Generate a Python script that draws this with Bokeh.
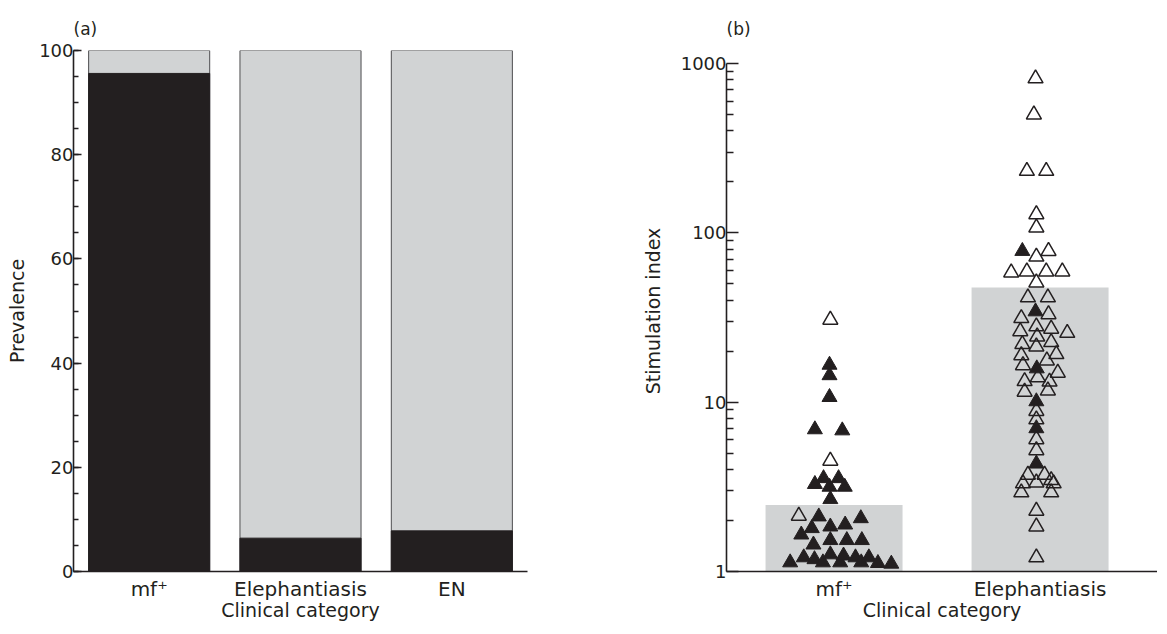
from bokeh.plotting import figure
from bokeh.layouts import row, column
from bokeh.models import Range1d, FixedTicker, NumeralTickFormatter, Label
from bokeh.embed import file_html
from bokeh.resources import INLINE

# ---------------- data ----------------
# Panel (a): prevalence (%) by clinical category
categories_a = ["mf⁺", "Elephantiasis", "EN"]
positive_a = [95.6, 6.4, 7.8]
total_a = [100, 100, 100]

# Panel (b): stimulation index, bars = group summary
categories_b = ["mf⁺", "Elephantiasis"]
bar_b = [2.47, 47.5]

# mf+ group: filled (black) and open triangles; dx = horizontal jitter in category units
mf_filled_si = [16.6, 14.4, 10.7, 6.9, 6.8, 3.55, 3.55, 3.28, 3.16, 3.16, 2.67,
                2.11, 2.06, 1.80, 1.84, 1.89, 1.65, 1.44, 1.53, 1.53, 1.53,
                1.13, 1.21, 1.18, 1.13, 1.26, 1.13, 1.24, 1.21, 1.13, 1.21, 1.12, 1.11]
mf_filled_dx = [-0.022, -0.022, -0.022, -0.093, 0.040, -0.051, 0.022, -0.093, -0.022, 0.052, -0.018,
                -0.074, 0.130, -0.108, -0.018, 0.054, -0.159, -0.100, -0.018, 0.062, 0.135,
                -0.213, -0.147, -0.095, -0.054, -0.018, 0.030, 0.046, 0.104, 0.132, 0.169, 0.213, 0.278]
mf_open_si = [30.6, 4.5, 2.13]
mf_open_dx = [-0.018, -0.018, -0.171]

# Elephantiasis group
el_filled_si = [78.0, 34.3, 15.8, 10.1, 7.0, 4.33]
el_filled_dx = [-0.086, -0.022, -0.016, -0.018, -0.018, -0.018]
el_open_si = [816, 499, 231.7, 231.7, 128.5, 107.4, 78.0, 72.3, 58.2, 59.0, 59.0, 59.0, 50.8,
              41.5, 41.5, 33.0, 31.3, 28.0, 27.1, 25.6, 26.2, 24.4, 22.0, 22.6, 21.3,
              18.9, 19.2, 17.6, 16.5, 14.9, 14.0, 13.3, 13.2, 11.5, 11.7,
              8.85, 7.9, 6.03, 5.19, 3.72, 3.72, 3.31, 3.35, 3.46, 3.31, 2.93, 2.93,
              2.28, 1.84, 1.21]
el_open_dx = [-0.022, -0.030, -0.064, 0.030, -0.018, -0.018, 0.041, -0.018, -0.140, -0.064, 0.030, 0.108, -0.018,
              -0.059, 0.038, 0.041, -0.091, -0.018, 0.054, 0.132, -0.096, -0.014, -0.086, 0.054, -0.018,
              -0.091, 0.079, 0.033, -0.083, 0.086, -0.011, -0.075, 0.046, -0.075, 0.038,
              -0.018, -0.018, -0.018, -0.018, -0.059, 0.022, -0.083, -0.018, 0.054, 0.066, -0.091, 0.054,
              -0.018, -0.018, -0.018]

# ---------------- style ----------------
INK = "#231f20"
GREY = "#d1d3d4"
FONT = "DejaVu Sans"
HEAD = 40          # height of the strip holding the panel letters
H = 584            # height of each chart figure
TOP = 10
BOTTOM = 53


def style_axes(p, tick_in, minor_in, title_standoff):
    for ax in (p.xaxis[0], p.yaxis[0]):
        ax.axis_line_color = INK
        ax.axis_line_width = 1.6
        ax.major_label_text_font = FONT
        ax.major_label_text_color = INK
        ax.axis_label_text_font = FONT
        ax.axis_label_text_font_size = "19px"
        ax.axis_label_text_font_style = "normal"
        ax.axis_label_text_color = INK
        ax.major_tick_out = 0
        ax.minor_tick_out = 0
        ax.major_tick_line_color = INK
        ax.minor_tick_line_color = INK
        ax.major_tick_line_width = 1.6
        ax.minor_tick_line_width = 1.6
    p.yaxis.major_label_text_font_size = "18px"
    p.xaxis.major_label_text_font_size = "20px"
    p.yaxis.major_tick_in = tick_in
    p.yaxis.minor_tick_in = minor_in
    p.yaxis.major_label_standoff = 0
    p.yaxis.axis_label_standoff = title_standoff
    p.xaxis.major_tick_in = 0
    p.xaxis.minor_tick_in = 0
    p.xaxis.major_label_standoff = 5
    p.xaxis.axis_label_standoff = -5
    p.xgrid.visible = False
    p.ygrid.visible = False
    p.outline_line_color = None


def header(width, left, text):
    h = figure(width=width, height=HEAD, x_range=Range1d(0, 1), y_range=Range1d(0, HEAD),
               x_axis_location=None, y_axis_location=None, output_backend="svg",
               toolbar_location=None, min_border_left=left, min_border_right=0,
               min_border_top=0, min_border_bottom=0)
    h.grid.visible = False
    h.outline_line_color = None
    h.add_layout(Label(x=0, y=2, text=text, text_font=FONT, text_font_size="17px",
                       text_color=INK, text_baseline="bottom", text_align="left"))
    return h


# ---------------- panel (a) ----------------
xa = [i + 1 for i in range(len(categories_a))]
p1 = figure(width=592, height=H, x_range=Range1d(0.5, 3.5), y_range=Range1d(0, 100),
            output_backend="svg", toolbar_location=None,
            min_border_left=73, min_border_right=65, min_border_top=TOP, min_border_bottom=BOTTOM)
p1.vbar(x=xa, top=total_a, width=0.8, fill_color=GREY, line_color="#4d4d4f", line_width=1)
p1.vbar(x=xa, top=positive_a, width=0.8, fill_color=INK, line_color=INK, line_width=1)
p1.xaxis.ticker = FixedTicker(ticks=xa)
p1.xaxis.major_label_overrides = {x: c for x, c in zip(xa, categories_a)}
p1.yaxis.ticker = FixedTicker(ticks=list(range(0, 101, 20)), minor_ticks=list(range(0, 101, 5)))
p1.xaxis.axis_label = "Clinical category"
p1.yaxis.axis_label = "Prevalence"
style_axes(p1, 8, 5, 8)
h1 = header(592, 65, "(a)")

# ---------------- panel (b) ----------------
xb = [i + 1 for i in range(len(categories_b))]
p2 = figure(width=565, height=H, x_range=Range1d(0.478, 2.570), y_range=Range1d(1, 1193),
            y_axis_type="log", output_backend="svg", toolbar_location=None,
            min_border_left=134, min_border_right=0, min_border_top=TOP, min_border_bottom=BOTTOM)
p2.vbar(x=xb, bottom=1, top=bar_b, width=0.665, fill_color=GREY, line_color=None)

mf_open_x = [xb[0] + d for d in mf_open_dx]
el_open_x = [xb[1] + d for d in el_open_dx]
mf_filled_x = [xb[0] + d for d in mf_filled_dx]
el_filled_x = [xb[1] + d for d in el_filled_dx]

p2.scatter(mf_open_x + el_open_x, mf_open_si + el_open_si, marker="triangle", size=15,
           fill_color=None, line_color=INK, line_width=1.5)
p2.scatter(mf_filled_x + el_filled_x, mf_filled_si + el_filled_si, marker="triangle", size=15,
           fill_color=INK, line_color=INK, line_width=1)

p2.xaxis.ticker = FixedTicker(ticks=xb)
p2.xaxis.major_label_overrides = {x: c for x, c in zip(xb, categories_b)}
p2.yaxis.ticker = FixedTicker(ticks=[1, 10, 100, 1000],
                              minor_ticks=[k * 10 ** e for e in range(3) for k in range(2, 10)])
p2.yaxis.formatter = NumeralTickFormatter(format="0")
p2.yaxis.bounds = (1, 1000)
p2.xaxis.axis_label = "Clinical category"
p2.yaxis.axis_label = "Stimulation index"
style_axes(p2, 12, 7, 14)
h2 = header(565, 123, "(b)")

layout = row(column(h1, p1), column(h2, p2))
open("out.html", "w").write(file_html(layout, INLINE))
